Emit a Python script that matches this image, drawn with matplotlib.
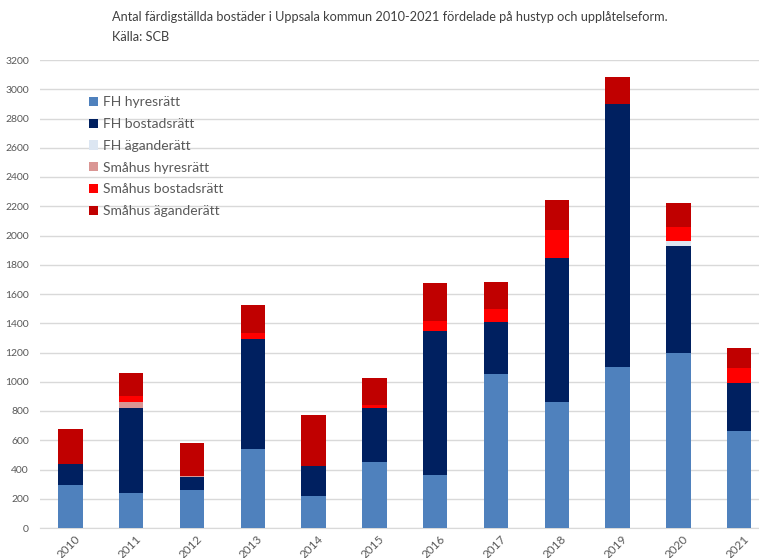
import matplotlib.pyplot as plt
import matplotlib as mpl
import matplotlib.transforms as mtransforms
import numpy as np

mpl.rc("font", family=["Lato", "DejaVu Sans"])

years = ["2010", "2011", "2012", "2013", "2014", "2015",
         "2016", "2017", "2018", "2019", "2020", "2021"]

fh_hyresratt = [292, 239, 262, 542, 219, 451, 362, 1053, 859, 1099, 1199, 665]
fh_bostadsratt = [148, 582, 87, 750, 203, 372, 985, 353, 989, 1798, 729, 326]
fh_aganderatt = [0, 0, 0, 0, 0, 0, 0, 0, 0, 0, 36, 0]
smahus_hyresratt = [0, 43, 4, 0, 0, 0, 0, 0, 0, 0, 0, 0]
smahus_bostadsratt = [0, 41, 0, 39, 0, 18, 68, 91, 188, 0, 94, 103]
smahus_aganderatt = [235, 153, 230, 192, 348, 185, 258, 185, 207, 185, 162, 135]

series = [
    ("FH hyresrätt", fh_hyresratt, "#4f81bd"),
    ("FH bostadsrätt", fh_bostadsratt, "#002060"),
    ("FH äganderätt", fh_aganderatt, "#dce6f2"),
    ("Småhus hyresrätt", smahus_hyresratt, "#da9694"),
    ("Småhus bostadsrätt", smahus_bostadsratt, "#ff0000"),
    ("Småhus äganderätt", smahus_aganderatt, "#c00000"),
]

text_color = "#595959"

fig = plt.figure(figsize=(7.59, 5.58), dpi=100)
ax = fig.add_axes([40 / 759, 30 / 558, 729.6 / 759, 468 / 558])

x = np.arange(len(years))
bottom = np.zeros(len(years))
handles = []
for label, values, color in series:
    h = ax.bar(x, values, 0.4, bottom=bottom, color=color, label=label,
               edgecolor="none", zorder=3)
    handles.append(h)
    bottom += np.array(values)

ax.set_xlim(-0.5, len(years) - 0.5)
ax.set_ylim(0, 3200)
ax.set_yticks(range(0, 3201, 200))
ax.set_xticks(x)
ax.set_xticklabels(years, rotation=45, ha="right", rotation_mode="anchor")
ax.tick_params(axis="both", length=0, colors=text_color)
ax.tick_params(axis="y", pad=8, labelsize=7.5)
ax.tick_params(axis="x", pad=4, labelsize=8.5)
# nudge the year labels a little to the right, like the original
shift = mtransforms.ScaledTranslation(4 / 100, 0, fig.dpi_scale_trans)
for lbl in ax.get_xticklabels():
    lbl.set_transform(lbl.get_transform() + shift)
ax.yaxis.grid(True, color="#d9d9d9", lw=1, zorder=0)
for side in ["top", "right", "left"]:
    ax.spines[side].set_visible(False)
ax.spines["bottom"].set_color("#d9d9d9")

leg = fig.legend(handles=handles, loc="upper left",
                 bbox_to_anchor=(76 / 759, 1 - 84 / 558), frameon=False,
                 fontsize=10, handlelength=0.65, handleheight=0.65,
                 handletextpad=0.4, labelspacing=0.7)
for t in leg.get_texts():
    t.set_color(text_color)

fig.text(112 / 759, 1 - 17 / 558,
         "Antal färdigställda bostäder i Uppsala kommun 2010-2021 fördelade på hustyp och upplåtelseform.",
         fontsize=9.2, color="#404040", va="center", ha="left")
fig.text(112 / 759, 1 - 37 / 558, "Källa: SCB",
         fontsize=9.2, color="#404040", va="center", ha="left")

fig.savefig("out.png", dpi=100)
